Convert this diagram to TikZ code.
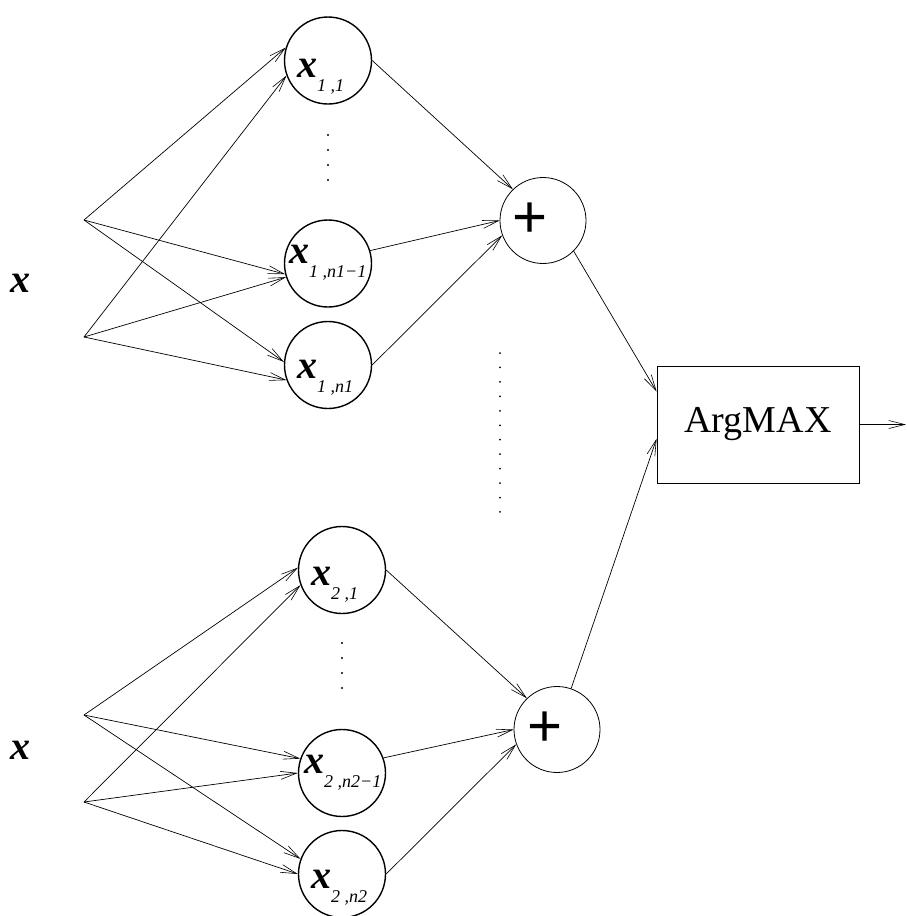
\documentclass[tikz,border=0pt]{standalone}
\usepackage{fontspec}
\setmainfont{Liberation Serif}
\newfontfamily\plusfont{Liberation Sans}
\usetikzlibrary{arrows.meta,calc}
\newcommand{\xvar}[1]{{\fontsize{40}{40}\selectfont\bfseries\itshape x}\raisebox{-14pt}{\fontsize{18}{18}\selectfont\itshape #1}}

\begin{document}
\begin{tikzpicture}[x=1pt,y=-1pt,
  unit/.style={circle,draw,line width=1.4pt,minimum size=87pt,inner sep=0pt},
  sum/.style={circle,draw,line width=0.8pt,minimum size=86pt,inner sep=0pt},
  plus/.style={inner sep=0pt,font=\plusfont\fontsize{60}{60}\selectfont},
  lbl/.style={anchor=base west,inner sep=0pt},
  inp/.style={inner sep=0pt,font=\fontsize{40}{40}\selectfont\bfseries\itshape},
  conn/.style={line width=0.7pt,-{Straight Barb[length=16pt,width=8pt,line width=0.6pt]}}]
  \useasboundingbox (0,0) rectangle (907,916);

  \node[inp] (xa) at (20,283) {x};
  \node[inp] (xb) at (20,750) {x};
  \coordinate (s1a) at (84,220);
  \coordinate (s1b) at (84,337);
  \coordinate (s2a) at (84,715);
  \coordinate (s2b) at (84,802);

  \node[unit] (c11) at (328,60.5) {};
  \node[unit] (c12) at (328,263.5) {};
  \node[unit] (c13) at (328,365) {};
  \node[unit] (c21) at (342,570) {};
  \node[unit] (c22) at (342,773) {};
  \node[unit] (c23) at (342,874) {};

  \node[lbl] (l11) at ($(c11)+(-31,16.5)$) {\xvar{1 ,1}};
  \node[lbl] (l12) at ($(c12)+(-39,0)$) {\xvar{1 ,n1−1}};
  \node[lbl] (l13) at ($(c13)+(-31,13)$) {\xvar{1 ,n1}};
  \node[lbl] (l21) at ($(c21)+(-31,15)$) {\xvar{2 ,1}};
  \node[lbl] (l22) at ($(c22)+(-38,0)$) {\xvar{2 ,n2−1}};
  \node[lbl] (l23) at ($(c23)+(-31,14)$) {\xvar{2 ,n2}};

  \node[sum] (p1) at (543,220.5) {};
  \node[sum] (p2) at (557,729.5) {};
  \node[plus] (t1) at ($(p1)+(-13,0)$) {+};
  \node[plus] (t2) at ($(p2)+(-12,0)$) {+};

  \node[draw,line width=0.8pt,minimum width=202pt,minimum height=117pt,inner sep=0pt,
    font=\fontsize{38}{38}\selectfont] (argmax) at (758,424.5) {ArgMAX};
  \coordinate (out) at (906,424.5);

  \foreach \y in {135,150,165,180} \fill (328,\y) circle (1.1pt);
  \foreach \y in {643,658,673,688} \fill (342,\y) circle (1.1pt);
  \foreach \i in {0,...,11} \fill (500,{353+14.45*\i}) circle (1pt);

  \draw[conn] (s1a) -- (c11.163);
  \draw[conn] (s1a) -- (c12.194);
  \draw[conn] (s1a) -- (c13.176);
  \draw[conn] (s1b) -- (c11.200);
  \draw[conn] (s1b) -- (c12.198);
  \draw[conn] (s1b) -- (c13.200);
  \draw[conn] (s2a) -- (c21.177);
  \draw[conn] (s2a) -- (c22.161);
  \draw[conn] (s2a) -- (c23.160);
  \draw[conn] (s2b) -- (c21.200);
  \draw[conn] (s2b) -- (c22.180);
  \draw[conn] (s2b) -- (c23.180);

  \draw[conn] (c11.0) -- (p1.134);
  \draw[conn] (c12.17) -- (p1.180);
  \draw[conn] (c13.0) -- (p1.200);
  \draw[conn] (c21.0) -- (p2.134);
  \draw[conn] (c22.20) -- (p2.180);
  \draw[conn] (c23.0) -- (p2.200);

  \draw[conn] (p1.-45) -- (argmax.162.7);
  \draw[conn] (p2.71) -- (argmax.188.7);
  \draw[conn] (argmax.east) -- (out);
\end{tikzpicture}
\end{document}
